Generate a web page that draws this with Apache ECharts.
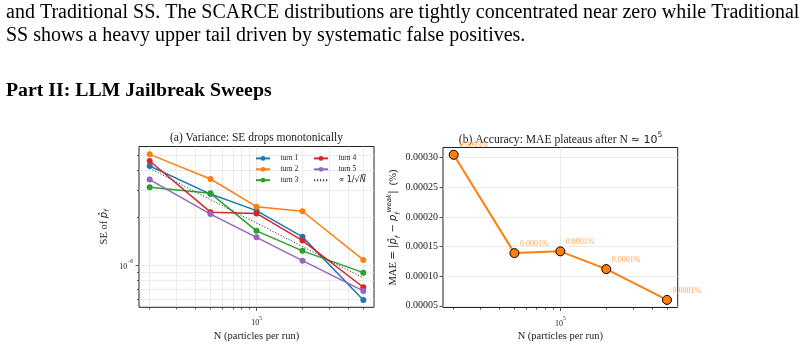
<!DOCTYPE html>
<html>
<head>
<meta charset="utf-8">
<script src="https://cdn.jsdelivr.net/npm/echarts@6/dist/echarts.min.js"></script>
<style>
html, body { margin: 0; padding: 0; background: #fff; }
#main { width: 804px; height: 348px; }
</style>
</head>
<body>
<div id="main"></div>
<script>
// particles per run, shared by both panels
const particleN = [20000, 50000, 100000, 200000, 500000];

// (a) standard error of p_f per turn
const seTurn1 = [4.27e-6, 2.83e-6, 2.22e-6, 1.51e-6, 5.98e-7];
const seTurn2 = [5.07e-6, 3.53e-6, 2.35e-6, 2.20e-6, 1.076e-6];
const seTurn3 = [3.13e-6, 2.86e-6, 1.65e-6, 1.23e-6, 8.93e-7];
const seTurn4 = [4.60e-6, 2.17e-6, 2.13e-6, 1.43e-6, 7.21e-7];
const seTurn5 = [3.50e-6, 2.11e-6, 1.50e-6, 1.065e-6, 6.83e-7];
const seRef = [4.13e-6, 2.61e-6, 1.85e-6, 1.31e-6, 8.26e-7];

// (b) mean absolute error
const maeValues = [0.000305, 0.000139, 0.000142, 0.000112, 0.0000600];
const maeLabels = ['0.0003%', '0.0001%', '0.0001%', '0.0001%', '0.0001%'];

// tick positions
const xMinorTicks = [20000, 30000, 40000, 50000, 60000, 70000, 80000, 90000, 200000, 300000, 400000, 500000];
const xMajorTicks = [100000];
const seMinorTicks = [6e-7, 7e-7, 8e-7, 9e-7, 2e-6, 3e-6, 4e-6, 5e-6];
const seMajorTicks = [1e-6];
const maeTicks = [0.00005, 0.00010, 0.00015, 0.00020, 0.00025, 0.00030];

const serif = 'Liberation Serif';
const math = 'DejaVu Sans';
const ink = '#222';
const gridCol = '#e6e6e6';
const lg = Math.log10;
const xMin = 4.231, xMax = 5.769;   // log10 range of N
const seMin = -6.27, seMax = -5.245; // log10 range of SE

const supRich = {
    b: { fontFamily: serif, fontSize: 8, color: ink, lineHeight: 12, verticalAlign: 'bottom' },
    s: { fontFamily: serif, fontSize: 5.5, color: ink, lineHeight: 12, verticalAlign: 'top' }
};

function seData(vals) {
    return particleN.map((n, i) => [lg(n), lg(vals[i])]);
}

function xAxes(gridIndex, minorGrid) {
    return [{
        type: 'value', gridIndex: gridIndex, min: xMin, max: xMax, position: 'bottom',
        axisLine: { show: false, onZero: false },
        axisLabel: { show: false },
        axisTick: { customValues: xMinorTicks.map(lg), length: 2, lineStyle: { color: ink, width: 0.8 } },
        splitLine: { show: minorGrid, lineStyle: { color: gridCol, width: 0.8 } }
    }, {
        type: 'value', gridIndex: gridIndex, min: xMin, max: xMax, position: 'bottom',
        axisLine: { show: false, onZero: false },
        axisTick: { customValues: xMajorTicks.map(lg), length: 3.5, lineStyle: { color: ink, width: 0.8 } },
        axisLabel: {
            customValues: xMajorTicks.map(lg), margin: 8,
            formatter: v => '{b|10}{s|' + Math.round(v) + '}', rich: supRich
        },
        splitLine: { show: true, lineStyle: { color: gridCol, width: 0.8 } },
        name: 'N (particles per run)', nameLocation: 'middle', nameGap: 23,
        nameTextStyle: { fontFamily: serif, fontSize: 10.5, color: ink }
    }];
}

const lineSeries = (name, vals, color) => ({
    name: name, type: 'line', xAxisIndex: 1, yAxisIndex: 1, data: seData(vals),
    symbol: 'circle', symbolSize: 6, color: color,
    lineStyle: { width: 1.5, color: color }, itemStyle: { color: color }
});

const refName = '∝ 1/√N';

const legendBase = {
    orient: 'vertical', top: 149.4, itemWidth: 14, itemHeight: 6, itemGap: 2.9
};

const chart = echarts.init(document.getElementById('main'));
chart.setOption({
    animation: false,
    grid: [
        { left: 139, top: 146.5, width: 235, height: 160.8, show: true, borderColor: ink, borderWidth: 1, backgroundColor: 'transparent' },
        { left: 443, top: 147.5, width: 234.7, height: 160, show: true, borderColor: ink, borderWidth: 1, backgroundColor: 'transparent' }
    ],
    xAxis: xAxes(0, true).concat(xAxes(1, false)),
    yAxis: [{
        type: 'value', gridIndex: 0, min: seMin, max: seMax, position: 'left',
        axisLine: { show: false, onZero: false },
        axisLabel: { show: false },
        axisTick: { customValues: seMinorTicks.map(lg), length: 2, lineStyle: { color: ink, width: 0.8 } },
        splitLine: { show: true, lineStyle: { color: gridCol, width: 0.8 } }
    }, {
        type: 'value', gridIndex: 0, min: seMin, max: seMax, position: 'left',
        axisLine: { show: false, onZero: false },
        axisTick: { customValues: seMajorTicks.map(lg), length: 3.5, lineStyle: { color: ink, width: 0.8 } },
        axisLabel: {
            customValues: seMajorTicks.map(lg), margin: 6,
            formatter: v => '{b|10}{s|−' + Math.round(-v) + '}', rich: supRich
        },
        splitLine: { show: true, lineStyle: { color: gridCol, width: 0.8 } },
        name: '{t|SE of }{p|p̂}{f|f}', nameLocation: 'middle', nameGap: 28, nameRotate: 90,
        nameTextStyle: {
            rich: {
                t: { fontFamily: serif, fontSize: 10.5, color: ink, lineHeight: 14, verticalAlign: 'middle' },
                p: { fontFamily: math, fontStyle: 'italic', fontSize: 10, color: ink, lineHeight: 14, verticalAlign: 'middle' },
                f: { fontFamily: math, fontStyle: 'italic', fontSize: 7, color: ink, lineHeight: 14, verticalAlign: 'bottom' }
            }
        }
    }, {
        type: 'value', gridIndex: 1, min: 0.0000472, max: 0.0003173, position: 'left',
        axisLine: { show: false, onZero: false },
        axisTick: { customValues: maeTicks, length: 3.5, lineStyle: { color: ink, width: 0.8 } },
        axisLabel: {
            customValues: maeTicks, margin: 5, formatter: v => v.toFixed(5),
            fontFamily: serif, fontSize: 10, color: ink
        },
        splitLine: { show: true, lineStyle: { color: gridCol, width: 0.8 } },
        name: '{t|MAE }{m|= |}{p|p̂}{f|f}{m| − }{p|p}{f|f}{w|weak}{m||}{t|  (%)}',
        nameLocation: 'middle', nameGap: 39, nameRotate: 90,
        nameTextStyle: {
            rich: {
                t: { fontFamily: serif, fontSize: 10.5, color: ink, lineHeight: 16, verticalAlign: 'middle' },
                m: { fontFamily: math, fontSize: 10, color: ink, lineHeight: 16, verticalAlign: 'middle' },
                p: { fontFamily: math, fontStyle: 'italic', fontSize: 10, color: ink, lineHeight: 16, verticalAlign: 'middle' },
                f: { fontFamily: math, fontStyle: 'italic', fontSize: 7, color: ink, lineHeight: 16, verticalAlign: 'bottom' },
                w: { fontFamily: math, fontStyle: 'italic', fontSize: 7, color: ink, lineHeight: 16, verticalAlign: 'top' }
            }
        }
    }],
    legend: [Object.assign({}, legendBase, {
        data: ['turn 1', 'turn 2', 'turn 3'], left: 250,
        textStyle: { fontFamily: serif, fontSize: 7.5, color: ink, padding: [0, 0, 0, 5.5] }
    }), Object.assign({}, legendBase, {
        data: ['turn 4', 'turn 5', { name: refName, itemStyle: { opacity: 0 } }], left: 308,
        textStyle: {
            fontFamily: serif, fontSize: 7.5, color: ink, padding: [0, 0, 0, 5.5],
            rich: {
                m: { fontFamily: math, fontSize: 8, color: ink },
                n: { fontFamily: math, fontStyle: 'italic', fontSize: 8, color: ink }
            }
        },
        formatter: name => name === refName ? '{m|∝ 1/√}{n|N̅}' : name
    })],
    series: [
        lineSeries('turn 1', seTurn1, '#1f77b4'),
        lineSeries('turn 2', seTurn2, '#ff7f0e'),
        lineSeries('turn 3', seTurn3, '#2ca02c'),
        lineSeries('turn 4', seTurn4, '#d62728'),
        lineSeries('turn 5', seTurn5, '#9467bd'),
        {
            name: refName, type: 'line', xAxisIndex: 1, yAxisIndex: 1, data: seData(seRef),
            symbol: 'none', color: '#333',
            lineStyle: { width: 1, type: [1.2, 1.8], color: '#333' }
        },
        {
            name: 'MAE', type: 'line', xAxisIndex: 3, yAxisIndex: 2,
            data: particleN.map((n, i) => [lg(n), maeValues[i]]),
            symbol: 'circle', symbolSize: 9, color: '#ff7f0e',
            lineStyle: { width: 2, color: '#ff7f0e' },
            itemStyle: { color: '#ff7f0e', borderColor: '#000', borderWidth: 1 },
            label: {
                show: true, formatter: p => maeLabels[p.dataIndex],
                position: [10.5, -4.5], align: 'left', verticalAlign: 'middle',
                fontFamily: serif, fontSize: 8, color: '#ffa556'
            }
        }
    ],
    graphic: [
        {
            type: 'text', x: 6, y: 12.8,
            style: { text: 'and Traditional SS. The SCARCE distributions are tightly concentrated near zero while Traditional', fontFamily: serif, fontSize: 20, fill: '#000', verticalAlign: 'middle' }
        },
        {
            type: 'text', x: 6, y: 35.5,
            style: { text: 'SS shows a heavy upper tail driven by systematic false positives.', fontFamily: serif, fontSize: 20, fill: '#000', verticalAlign: 'middle' }
        },
        {
            type: 'text', x: 6, y: 91.2,
            style: { text: 'Part II: LLM Jailbreak Sweeps', fontFamily: serif, fontSize: 19.8, fontWeight: 'bold', fill: '#000', verticalAlign: 'middle' }
        },
        {
            type: 'text', x: 256.5, y: 138.3,
            style: { text: '(a) Variance: SE drops monotonically', fontFamily: serif, fontSize: 11.5, fill: ink, align: 'center', verticalAlign: 'middle' }
        },
        {
            type: 'text', x: 560.5, y: 138.3,
            style: {
                text: '{t|(b) Accuracy: MAE plateaus after N }{m|≈ 10}{s|5}', align: 'center', verticalAlign: 'middle',
                rich: {
                    t: { fontFamily: serif, fontSize: 11.6, fill: ink, lineHeight: 15, verticalAlign: 'bottom' },
                    m: { fontFamily: math, fontSize: 11, fill: ink, lineHeight: 15, verticalAlign: 'bottom' },
                    s: { fontFamily: math, fontSize: 7.5, fill: ink, lineHeight: 15, verticalAlign: 'top' }
                }
            }
        }
    ]
});
</script>
</body>
</html>
